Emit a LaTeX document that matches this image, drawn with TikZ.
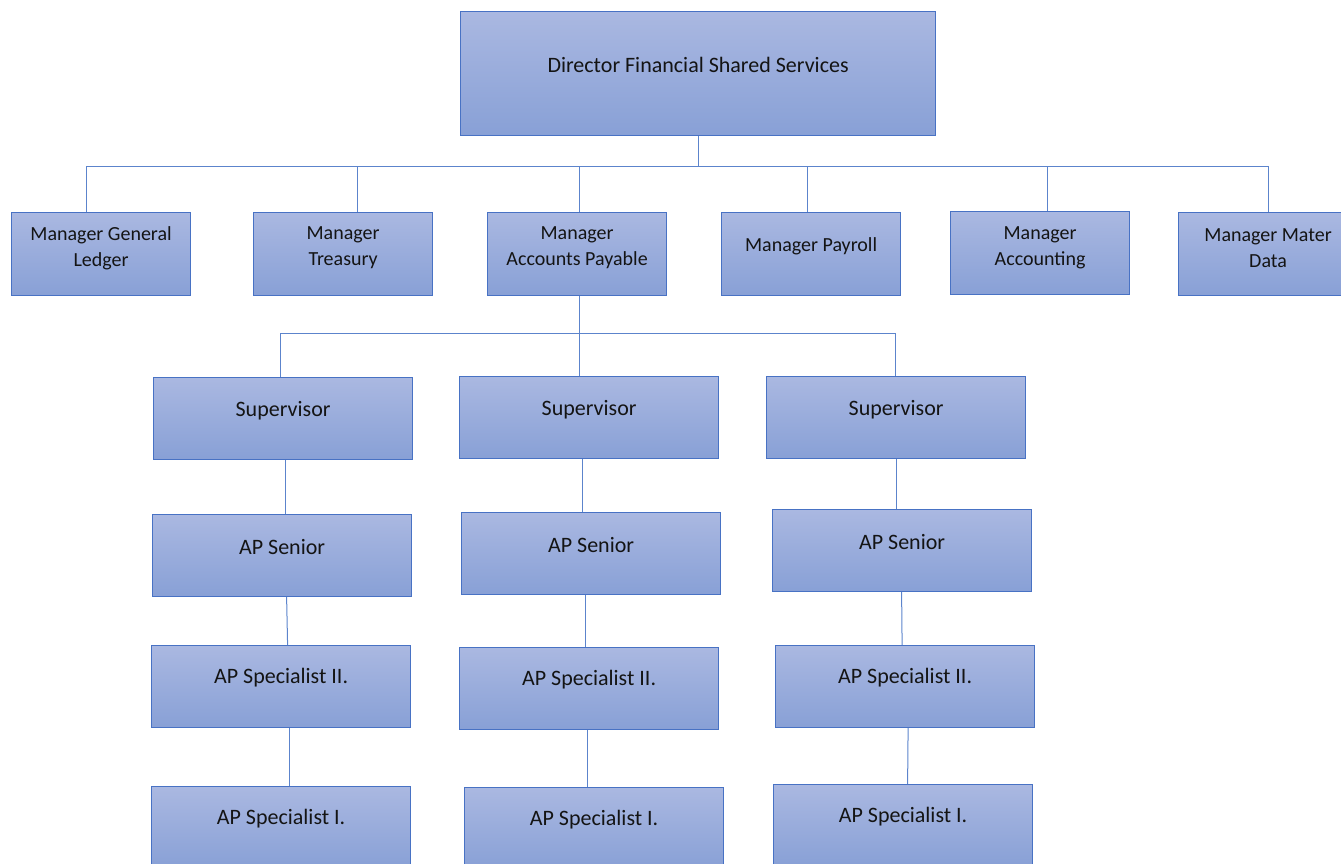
\documentclass[tikz,border=0pt]{standalone}
\usepackage{fontspec}
\setmainfont{Carlito}
\usetikzlibrary{calc}
\definecolor{boxtop}{RGB}{170,184,225}
\definecolor{boxbot}{RGB}{136,160,214}
\definecolor{boxedge}{RGB}{72,114,196}
\definecolor{linkblue}{RGB}{92,132,204}
\definecolor{ink}{RGB}{20,20,20}
\begin{document}
\begin{tikzpicture}[x=1pt,y=-1pt,
  box/.style={draw=boxedge,line width=1.2pt,top color=boxtop,bottom color=boxbot,
    anchor=north west,inner sep=0pt},
  mgr/.style={box,minimum width=179pt,minimum height=83pt},
  staff/.style={box,minimum width=259pt,minimum height=82pt},
  txt/.style={inner sep=0pt,text=ink,align=center,font=\fontsize{22}{27}\selectfont},
  mtxt/.style={txt,font=\fontsize{20}{26}\selectfont},
  conn/.style={draw=linkblue,line width=1pt}]
\useasboundingbox (0,0) rectangle (1341,864);

% director
\node[box,minimum width=475pt,minimum height=124pt] (dir) at (460,11) {};
\node[txt] (dirt) at ($(dir.north)+(0,54)$) {Director Financial Shared Services};

% managers
\node[mgr] (gl) at (11,212) {};
\node[mgr] (tr) at (253,212) {};
\node[mgr] (ap) at (487,212) {};
\node[mgr] (pr) at (721,212) {};
\node[mgr] (ac) at (950,211) {};
\node[mgr] (md) at (1178,212) {};
\node[mtxt] (glt) at ($(gl.north)+(0,36)$) {Manager General\\Ledger};
\node[mtxt] (trt) at ($(tr.north)+(0,36)$) {Manager\\Treasury};
\node[mtxt] (apt) at ($(ap.north)+(0,36)$) {Manager\\Accounts Payable};
\node[mtxt] (prt) at ($(pr.north)+(0,34)$) {Manager Payroll};
\node[mtxt] (act) at ($(ac.north)+(0,37)$) {Manager\\Accounting};
\node[mtxt] (mdt) at ($(md.north)+(0,36)$) {Manager Mater\\Data};

% AP staff columns
\node[staff] (s1) at (153,377) {};
\node[staff] (s2) at (459,376) {};
\node[staff] (s3) at (766,376) {};
\node[staff] (n1) at (152,514) {};
\node[staff] (n2) at (461,512) {};
\node[staff] (n3) at (772,509) {};
\node[staff] (b1) at (151,645) {};
\node[staff] (b2) at (459,647) {};
\node[staff] (b3) at (775,645) {};
\node[staff] (a1) at (151,786) {};
\node[staff] (a2) at (464,787) {};
\node[staff] (a3) at (773,784) {};
\foreach \n in {1,2,3}{
  \node[txt] (s\n t) at ($(s\n.north)+(0,34)$) {Supervisor};
  \node[txt] (n\n t) at ($(n\n.north)+(0,33)$) {AP Senior};
  \node[txt] (b\n t) at ($(b\n.north)+(0,33)$) {AP Specialist II.};
  \node[txt] (a\n t) at ($(a\n.north)+(0,33)$) {AP Specialist I.};
}

% director to managers
\draw[conn] (dir.south) -- ++(0,30) coordinate (hub);
\draw[conn] ([xshift=-14.5pt]gl.north) |- (hub) -| ([xshift=0.5pt]md.north);
\draw[conn] ([xshift=14pt]tr.north) -- ([xshift=14pt]tr.north |- hub);
\draw[conn] ([xshift=2.5pt]ap.north) -- ([xshift=2.5pt]ap.north |- hub);
\draw[conn] ([xshift=-4pt]pr.north) -- ([xshift=-4pt]pr.north |- hub);
\draw[conn] ([xshift=7pt]ac.north) -- ([xshift=7pt]ac.north |- hub);

% accounts payable to supervisors
\draw[conn] ([xshift=2.5pt]ap.south) -- ++(0,37) coordinate (aphub);
\draw[conn] ([xshift=-2.5pt]s1.north) |- (aphub) -| ([xshift=-0.5pt]s3.north);
\draw[conn] ([xshift=-9.5pt]s2.north) -- ([xshift=-9.5pt]s2.north |- aphub);

% reporting lines within each column
\draw[conn] ([xshift=2.5pt]s1.south) -- ([xshift=3.5pt]n1.north);
\draw[conn] ([xshift=4.5pt]n1.south) -- ([xshift=6.5pt]b1.north);
\draw[conn] ([xshift=8.5pt]b1.south) -- ([xshift=8.5pt]a1.north);
\draw[conn] ([xshift=-6.5pt]s2.south) -- ([xshift=-8.5pt]n2.north);
\draw[conn] ([xshift=-5.5pt]n2.south) -- ([xshift=-3.5pt]b2.north);
\draw[conn] ([xshift=-1.5pt]b2.south) -- ([xshift=-6.5pt]a2.north);
\draw[conn] ([xshift=0.5pt]s3.south) -- ([xshift=-5.5pt]n3.north);
\draw[conn] ([xshift=-0.5pt]n3.south) -- ([xshift=-3pt]b3.north);
\draw[conn] ([xshift=3pt]b3.south) -- ([xshift=4.5pt]a3.north);
\end{tikzpicture}
\end{document}
